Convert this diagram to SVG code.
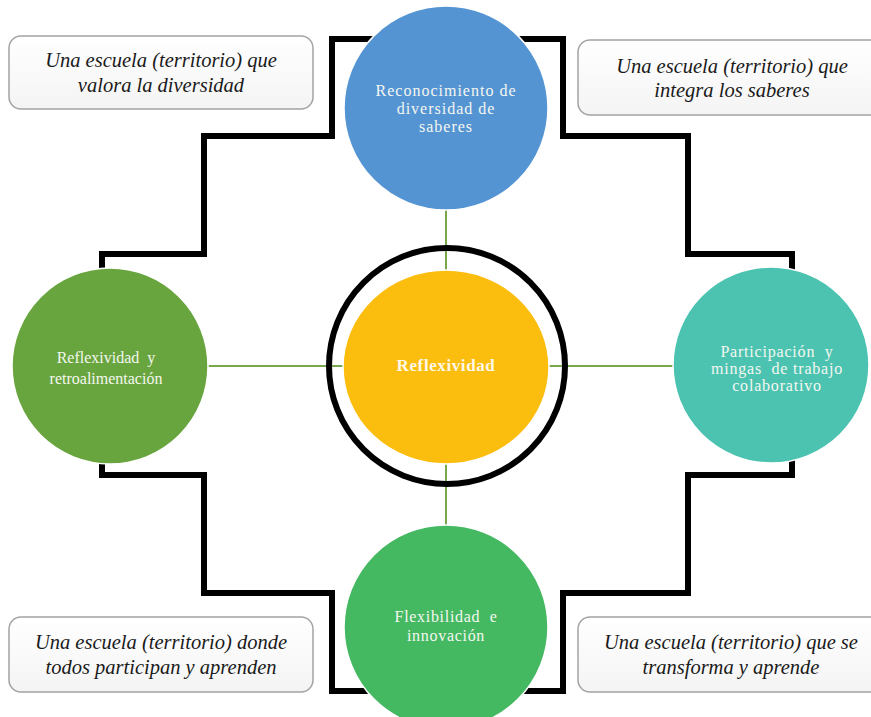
<svg xmlns="http://www.w3.org/2000/svg" width="871" height="717" viewBox="0 0 871 717">
  <defs>
    <linearGradient id="boxFill" x1="0" y1="0" x2="0" y2="1">
      <stop offset="0" stop-color="#ffffff"/>
      <stop offset="1" stop-color="#f4f4f4"/>
    </linearGradient>
  </defs>
  <style>
    .frame { fill: none; stroke: #000; stroke-width: 6; stroke-linejoin: miter; }
    .link { stroke: #78a84c; stroke-width: 2; fill: none; }
    .box { fill: url(#boxFill); stroke: #a3a3a3; stroke-width: 1.5; }
    .boxText { font-style: italic; font-size: 20.5px; fill: #1a1a1a; text-anchor: middle; }
    .bubble { stroke: #ffffff; stroke-width: 1.5; }
    .label { font-size: 16px; fill: #f4f7f0; text-anchor: middle; }
  </style>

  <rect width="871" height="717" fill="#ffffff"/>

  <!-- stepped cross outline -->
  <path class="frame" d="M332,39 H563 V136 H688 V254 H792 V475 H688 V593 H563 V691 H332 V593 H204 V475 H102 V254 H204 V136 H332 Z"/>

  <!-- corner statements -->
  <g font-family="Liberation Serif, Times New Roman, serif">
    <g id="box-top-left">
      <rect class="box" x="9" y="36" width="304" height="73" rx="12"/>
      <text class="boxText" x="161" y="67">Una escuela (territorio) que</text>
      <text class="boxText" x="161" y="92">valora la diversidad</text>
    </g>
    <g id="box-top-right">
      <rect class="box" x="578" y="40" width="310" height="75" rx="12"/>
      <text class="boxText" x="732" y="73">Una escuela (territorio) que</text>
      <text class="boxText" x="732" y="97">integra los saberes</text>
    </g>
    <g id="box-bottom-left">
      <rect class="box" x="9" y="617" width="304" height="75" rx="12"/>
      <text class="boxText" x="161" y="649">Una escuela (territorio) donde</text>
      <text class="boxText" x="161" y="674">todos participan y aprenden</text>
    </g>
    <g id="box-bottom-right">
      <rect class="box" x="578" y="617" width="310" height="75" rx="12"/>
      <text class="boxText" x="731" y="649">Una escuela (territorio) que se</text>
      <text class="boxText" x="731" y="674">transforma y aprende</text>
    </g>
  </g>

  <!-- connectors from the centre to each circle -->
  <g id="connectors">
    <line class="link" x1="446" y1="208" x2="446" y2="272"/>
    <line class="link" x1="446" y1="462" x2="446" y2="527"/>
    <line class="link" x1="207" y1="366" x2="345" y2="366"/>
    <line class="link" x1="548" y1="366" x2="674" y2="366"/>
  </g>

  <g font-family="Liberation Serif, Times New Roman, serif">
    <g id="center">
      <circle cx="447" cy="366" r="118" fill="none" stroke="#000" stroke-width="6"/>
      <ellipse class="bubble" cx="446" cy="367" rx="103" ry="97" fill="#fbbd0e"/>
      <text x="446" y="371" font-weight="bold" font-size="17" letter-spacing="0.6" fill="#fff8e8" text-anchor="middle">Reflexividad</text>
    </g>

    <g id="node-top">
      <circle class="bubble" cx="446" cy="108" r="102" fill="#5494d3"/>
      <text class="label" x="446" y="96" letter-spacing="1">Reconocimiento de</text>
      <text class="label" x="446" y="114" letter-spacing="1">diversidad de</text>
      <text class="label" x="446" y="132" letter-spacing="1">saberes</text>
    </g>

    <g id="node-left">
      <circle class="bubble" cx="110" cy="366" r="98" fill="#68a53e"/>
      <text class="label" x="106" y="363" xml:space="preserve">Reflexividad  y</text>
      <text class="label" x="106" y="384">retroalimentación</text>
    </g>

    <g id="node-right">
      <circle class="bubble" cx="771" cy="365" r="98" fill="#4cc3b0"/>
      <text class="label" x="777" y="357" letter-spacing="0.8" xml:space="preserve">Participación  y</text>
      <text class="label" x="777" y="374" letter-spacing="0.8" xml:space="preserve">mingas  de trabajo</text>
      <text class="label" x="777" y="391" letter-spacing="0.8">colaborativo</text>
    </g>

    <g id="node-bottom">
      <circle class="bubble" cx="446" cy="627" r="102" fill="#45b862"/>
      <text class="label" x="446" y="622" letter-spacing="0.7" xml:space="preserve">Flexibilidad  e</text>
      <text class="label" x="446" y="641" letter-spacing="0.7">innovación</text>
    </g>
  </g>
</svg>
